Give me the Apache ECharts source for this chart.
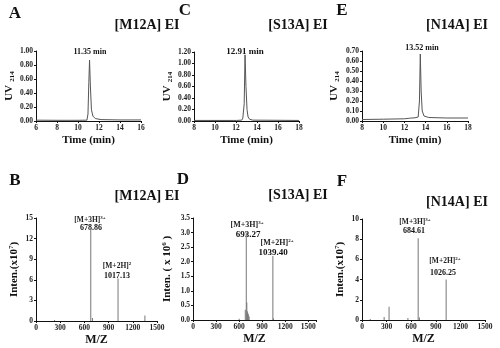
<!DOCTYPE html>
<html><head><meta charset="utf-8">
<script src="https://cdn.jsdelivr.net/npm/echarts@6/dist/echarts.min.js"></script>
<style>html,body{margin:0;padding:0;background:#fff}#c{width:500px;height:348px}</style>
</head><body><div id="c"></div>
<script>
// ---- Data ----
const chromA = [[6,0.012],[8,0.01],[10,0.01],[10.85,0.012],[10.95,0.1],[11.03,0.55],[11.1,0.87],[11.18,0.5],[11.28,0.16],[11.42,0.07],[11.65,0.035],[12.2,0.02],[14,0.015],[16,0.015]];
const chromC = [[8,0.01],[11.8,0.01],[11.95,0.03],[12.05,0.01],[12.55,0.015],[12.65,0.05],[12.72,0.02],[12.78,0.3],[12.86,1.15],[12.95,0.6],[13.05,0.2],[13.15,0.07],[13.3,0.03],[13.6,0.015],[18,0.01]];
const chromE = [[8,0.015],[10,0.018],[12,0.022],[12.5,0.028],[13,0.032],[13.3,0.04],[13.42,0.2],[13.5,0.67],[13.58,0.3],[13.68,0.1],[13.85,0.05],[14.3,0.035],[16,0.03],[18,0.03]];
const specB = [[230,0.15],[679,13.5],[700,0.45],[1017,6.2],[1350,0.8]];
const specD = [[600,0.04],[680,0.35],[693,3.0],[700,0.6],[706,0.3],[712,0.25],[720,0.2],[730,0.12],[1039,2.2],[1046,0.06]];
const specF = [[100,0.1],[270,0.3],[330,1.3],[560,0.2],[685,8.1],[700,0.25],[1026,4.0]];
const titlesTop = ['[M12A] EI','[S13A] EI','[N14A] EI'];
const panelLetters = ['A','C','E','B','D','F'];
const peakLabelsChrom = ['11.35 min','12.91 min','13.52 min'];

// ---- Layout ----
const F = 'Liberation Serif, Times New Roman, serif';
const grids = [
  {left:36, top:51, width:105, height:70},
  {left:194, top:52, width:105, height:69},
  {left:362, top:51, width:106, height:70},
  {left:36, top:218, width:121, height:103},
  {left:193, top:218, width:123, height:102},
  {left:362, top:219, width:123, height:101}
];
const xCfg = [
  {min:6,max:16,interval:2,name:'Time (min)',fmt:v=>v},
  {min:8,max:18,interval:2,name:'Time (min)',fmt:v=>v},
  {min:8,max:18,interval:2,name:'Time (min)',fmt:v=>v},
  {min:0,max:1500,interval:300,name:'M/Z',fmt:v=>v},
  {min:0,max:1600,interval:300,name:'M/Z',fmt:v=>(v%300===0?v:'')},
  {min:0,max:1500,interval:300,name:'M/Z',fmt:v=>v}
];
const yCfg = [
  {min:0,max:1.0,interval:0.2,fmt:v=>v.toFixed(2),name:'{b|UV} {s|214}',gap:20},
  {min:0,max:1.2,interval:0.2,fmt:v=>v.toFixed(2),name:'{b|UV} {s|214}',gap:20},
  {min:0,max:0.7,interval:0.1,fmt:v=>v.toFixed(2),name:'{b|UV} {s|214}',gap:21},
  {min:0,max:15,interval:3,fmt:v=>v,name:'{b|Inten.(x10}{p|7}{b|)}',gap:15},
  {min:0,max:3.5,interval:0.5,fmt:v=>v.toFixed(1),name:'{b|Inten. ( x 10}{p|6}{b| )}',gap:19},
  {min:0,max:10,interval:2,fmt:v=>v,name:'{b|Inten.(x10}{p|7}{b|)}',gap:15}
];
const rich = {
  b:{fontFamily:F,fontWeight:'bold',fontSize:11,color:'#111'},
  s:{fontFamily:F,fontWeight:'bold',fontSize:7,color:'#111',verticalAlign:'bottom',padding:[6,0,0,0]},
  p:{fontFamily:F,fontWeight:'bold',fontSize:7,color:'#111',padding:[0,0,6,0]}
};
const axisLine = {lineStyle:{color:'#111',width:1}};
const lab = {fontFamily:F,fontWeight:'bold',fontSize:7.5,color:'#222',margin:3};

const xAxis = xCfg.map((c,i)=>({type:'value',gridIndex:i,min:c.min,max:c.max,interval:c.interval,
  name:c.name,nameLocation:'middle',nameGap:i<3?14:13,
  nameTextStyle:{fontFamily:F,fontWeight:'bold',fontSize:i<3?11:12,color:'#111'},
  axisLine:axisLine,axisTick:{length:2,lineStyle:{color:'#111'}},splitLine:{show:false},
  axisLabel:Object.assign({formatter:c.fmt},lab)}));
const yAxis = yCfg.map((c,i)=>({type:'value',gridIndex:i,min:c.min,max:c.max,interval:c.interval,
  name:c.name,nameLocation:'middle',nameGap:c.gap,nameRotate:90,nameTextStyle:{rich:rich},
  axisLine:Object.assign({show:true},axisLine),axisTick:{show:true,length:2,lineStyle:{color:'#111'}},splitLine:{show:false},
  axisLabel:Object.assign({formatter:c.fmt},lab)}));

const series = [];
[chromA,chromC,chromE].forEach((d,i)=>series.push({type:'line',xAxisIndex:i,yAxisIndex:i,data:d,symbol:'none',
  lineStyle:{color:'#555',width:1},animation:false}));
[specB,specD,specF].forEach((d,i)=>series.push({type:'bar',xAxisIndex:i+3,yAxisIndex:i+3,data:d,barWidth:1,
  itemStyle:{color:'#777'},animation:false}));

// ---- Text annotations ----
const T = (x,y,text,size,extra)=>Object.assign({type:'text',x:x,y:y,style:Object.assign({text:text,fontFamily:F,fontWeight:'bold',fontSize:size,fill:'#111',align:'center',verticalAlign:'middle'},extra||{})});
const ion = (x,y,base,sup,size)=>({type:'text',x:x,y:y,style:{text:'{a|'+base+'}{p|'+sup+'}',rich:{a:{fontFamily:F,fontWeight:'bold',fontSize:size,fill:'#222'},p:{fontFamily:F,fontWeight:'bold',fontSize:5,fill:'#222',padding:[0,0,5,0]}},align:'center',verticalAlign:'middle'}});
const graphic = [
  T(15,14,panelLetters[0],17), T(185,11,panelLetters[1],17), T(342,11,panelLetters[2],17),
  T(15,181,panelLetters[3],17), T(183,180,panelLetters[4],17), T(342,182,panelLetters[5],17),
  T(147,25,titlesTop[0],14), T(298,25,titlesTop[1],14), T(457,25,titlesTop[2],14),
  T(147,196,titlesTop[0],14), T(298,195,titlesTop[1],14), T(457,202,titlesTop[2],14),
  T(90,52,peakLabelsChrom[0],8), T(245,52,peakLabelsChrom[1],9), T(422,48,peakLabelsChrom[2],8),
  ion(90,220,'[M+3H]','3+',7.5), T(91,228,'678.86',8),
  ion(117,266,'[M+2H]','2',7.5), T(117,276,'1017.13',8),
  ion(247,225,'[M+3H]','3+',8), T(248,235,'693.27',9),
  ion(277,243,'[M+2H]','2+',8), T(273,253,'1039.40',9),
  ion(415,222,'[M+3H]','3+',7.5), T(414,231,'684.61',8),
  ion(445,261,'[M+2H]','2+',7.5), T(443,273,'1026.25',8)
];

const chart = echarts.init(document.getElementById('c'),null,{renderer:'canvas'});
chart.setOption({animation:false,backgroundColor:'#fff',grid:grids,xAxis:xAxis,yAxis:yAxis,series:series,graphic:graphic});
</script></body></html>
